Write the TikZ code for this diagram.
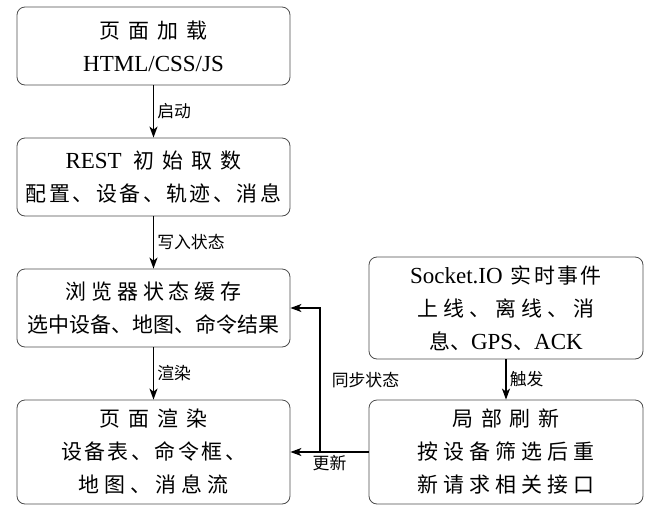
\documentclass[tikz,border=0pt]{standalone}
\usepackage{fontspec}
\setmainfont{Liberation Serif}
\newfontfamily\cjk{Noto Sans CJK SC}[Scale=0.91]
\usepackage{tikz}
\usetikzlibrary{arrows.meta}

\newcommand{\wgap}{\hspace{8pt}}
\newcommand{\mgap}{\hspace{5pt}}
\newcommand{\ngap}{\hspace{2.5pt}}

\begin{document}
\begin{tikzpicture}[x=1pt, y=-1pt,
    box/.style={draw=black!70, line width=0.8pt, rounded corners=8pt,
        align=center, inner sep=0pt, font=\fontsize{23}{33}\selectfont},
    flow/.style={-{Stealth[length=11pt,width=8pt,inset=3pt]}, line width=1.5pt},
    lbl/.style={font=\fontsize{18.5}{22}\selectfont\cjk, inner sep=3pt}]
    \useasboundingbox (0,0) rectangle (665,515);

    % Left column
    \node[box, minimum width=273pt, minimum height=78pt] (load) at (153.5,46)
        {{\cjk 页\wgap 面\wgap 加\wgap 载}\\HTML/CSS/JS};
    \node[box, minimum width=273pt, minimum height=78pt] (rest) at (153.5,177)
        {REST\hspace{12pt}{\cjk 初\wgap 始\wgap 取\wgap 数}\\
         {\cjk 配\ngap 置\ngap 、\ngap 设\ngap 备\ngap 、\ngap 轨\ngap 迹\ngap 、\ngap 消\ngap 息}};
    \node[box, minimum width=273pt, minimum height=78pt] (cache) at (153.5,308)
        {{\cjk 浏\mgap 览\mgap 器\mgap 状\mgap 态\mgap 缓\mgap 存}\\
         {\cjk 选中设备、地图、命令结果}};
    \node[box, minimum width=273pt, minimum height=104pt] (render) at (153.5,452)
        {{\cjk 页\wgap 面\wgap 渲\wgap 染}\\
         {\cjk 设\ngap 备\ngap 表\ngap 、\ngap 命\ngap 令\ngap 框\ngap 、}\\
         {\cjk 地\mgap 图\mgap 、\mgap 消\mgap 息\mgap 流}};

    % Right column
    \node[box, minimum width=274pt, minimum height=102pt] (socket) at (506,308)
        {Socket.IO\hspace{8pt}{\cjk 实\ngap 时\ngap 事\ngap 件}\\
         {\cjk 上\mgap 线\mgap 、\mgap 离\mgap 线\mgap 、\mgap 消}\\
         {\cjk 息、}GPS{\cjk 、}ACK};
    \node[box, minimum width=274pt, minimum height=104pt] (refresh) at (506,452)
        {{\cjk 局\wgap 部\wgap 刷\wgap 新}\\
         {\cjk 按\mgap 设\mgap 备\mgap 筛\mgap 选\mgap 后\mgap 重}\\
         {\cjk 新\mgap 请\mgap 求\mgap 相\mgap 关\mgap 接\mgap 口}};

    % Connectors
    \draw[flow] (load) -- (rest) node[lbl, midway, right] {启动};
    \draw[flow] (rest) -- (cache) node[lbl, midway, right] {写入状态};
    \draw[flow] (cache) -- (render) node[lbl, midway, right] {渲染};
    \draw[flow] (socket) -- (refresh) node[lbl, midway, right] {触发};

    \draw[flow] (refresh.west) -- (render.east) node[lbl, midway, below] {更新};
    \coordinate (split) at (320,452);
    \draw[flow] (split) |- (cache.east) node[lbl, pos=0.25, right, xshift=8pt] {同步状态};
\end{tikzpicture}
\end{document}
